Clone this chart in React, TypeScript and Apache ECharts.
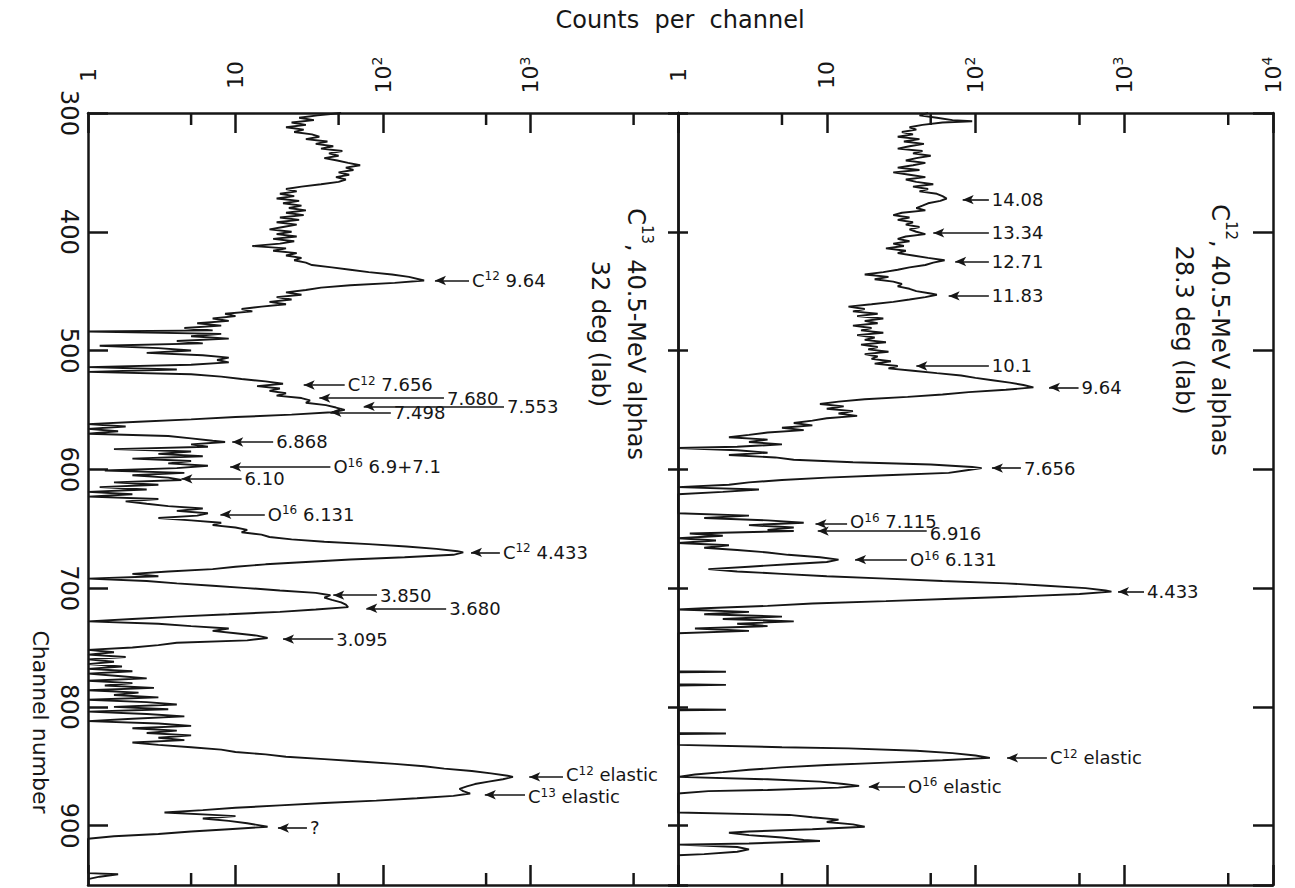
import React, { useEffect, useRef } from "react";
import * as echarts from "echarts";

// ---- Left panel: C13 target, 40.5-MeV alphas, 32 deg (lab) ----
const c13Channels = [
  300, 302, 304, 306, 308, 310, 312, 314, 316, 318, 320, 322, 324, 326, 328, 330, 332, 334, 336, 338,
  340, 342, 344, 346, 348, 350, 352, 354, 356, 358, 360, 362, 364, 366, 368, 370, 372, 374, 376, 378,
  380, 382, 384, 386, 388, 390, 392, 394, 396, 398, 400, 402, 404, 406, 408, 410, 412, 414, 416, 418,
  420, 422, 424, 426, 428, 430, 432, 434, 436, 438, 441, 443, 445, 447, 449, 451, 453, 455, 457, 459,
  461, 463, 465, 467, 469, 471, 473, 475, 477, 479, 481, 483, 484, 486, 488, 490, 492, 494, 496, 498,
  500, 502, 504, 506, 508, 510, 512, 514, 516, 518, 520, 522, 524, 526, 528, 530, 532, 534, 536, 538,
  540, 542, 544, 546, 548, 550, 552, 554, 556, 558, 560, 562, 564, 566, 568, 570, 572, 574, 576, 577,
  579, 581, 583, 585, 587, 589, 591, 593, 595, 597, 599, 601, 603, 605, 607, 609, 611, 613, 615, 617,
  619, 621, 623, 625, 627, 629, 631, 633, 635, 637, 639, 641, 643, 645, 647, 649, 651, 653, 655, 657,
  659, 661, 663, 665, 667, 669, 670, 672, 674, 676, 678, 680, 682, 684, 686, 688, 690, 692, 694, 696,
  698, 700, 702, 704, 706, 708, 710, 712, 714, 716, 718, 720, 722, 724, 726, 728, 730, 732, 734, 736,
  738, 740, 742, 744, 746, 748, 750, 752, 754, 756, 758, 760, 762, 764, 766, 768, 770, 772, 774, 776,
  778, 780, 782, 784, 786, 788, 790, 792, 794, 796, 798, 800, 802, 804, 806, 808, 810, 812, 814, 816,
  818, 820, 822, 824, 826, 828, 830, 832, 834, 836, 838, 840, 842, 844, 846, 848, 850, 852, 854, 856,
  858, 859, 861, 863, 865, 867, 869, 871, 873, 875, 877, 879, 881, 883, 885, 887, 889, 891, 892, 894,
  896, 898, 900, 901, 903, 905, 907, 909, 911, 940, 941, 943, 945,
];
const c13Counts = [
  52, 36, 27, 34, 24, 30, 22, 29, 25, 33, 37, 30, 42, 35, 46, 38, 53, 43, 50, 40,
  49, 58, 70, 56, 63, 50, 59, 48, 56, 50, 38, 28, 22, 26, 20, 25, 19, 27, 21, 28,
  23, 30, 22, 29, 20, 27, 19, 26, 21, 17, 24, 19, 26, 18, 25, 20, 13, 22, 18, 26,
  22, 28, 25, 30, 33, 45, 60, 80, 115, 150, 190, 120, 60, 38, 30, 22, 28, 19, 24, 17,
  22, 15, 11, 13, 8.5, 10, 7, 9, 5.5, 8, 4.5, 7, 1, 8, 5, 9, 4, 6, 1.2, 3,
  5, 2.5, 6, 9, 7.5, 9, 5, 1, 4, 1, 5, 8, 11, 16, 21, 14, 20, 17, 22, 19,
  28, 32, 30, 41, 48, 55, 45, 24, 10, 5, 2.2, 1, 1.8, 1, 1.6, 1, 3.5, 5, 7, 8.5,
  5, 6.5, 1.5, 5, 3, 6, 2, 5, 3.5, 6.5, 4, 1.3, 4.5, 2, 3.5, 4.3, 1.5, 3, 1.2, 2.5,
  1, 2, 1, 3, 1.8, 2.5, 3.5, 6, 4, 6.5, 5.5, 3, 5, 8, 7, 10, 12, 11, 15, 17,
  24, 40, 80, 144, 230, 320, 350, 300, 140, 60, 30, 16, 10, 7, 3.5, 2, 3, 1, 2.5, 4,
  7, 12, 20, 35, 44, 40, 45, 52, 56, 58, 35, 20, 9, 4, 2, 1, 3, 5, 9, 7,
  10, 14, 16.5, 12, 4, 3, 2, 1, 1.5, 1, 1.8, 1, 1.5, 1, 1.7, 1, 2, 1, 1.6, 2.5,
  1, 2, 1.3, 2.8, 1, 2.2, 1.5, 3, 1, 2.5, 4, 1.5, 3.5, 1, 2.5, 4.5, 2, 1, 3, 5,
  2, 4, 2.5, 5, 3, 4.5, 2, 3, 5, 8, 10, 16, 22, 40, 70, 120, 190, 260, 400, 540,
  700, 760, 650, 520, 420, 370, 330, 350, 390, 300, 170, 90, 40, 20, 10, 6, 3.3, 7, 10, 6,
  9, 12, 15, 16.5, 9, 5, 3, 1.5, 1, 1, 1.6, 1.2, 1,
];

// ---- Right panel: C12 target, 40.5-MeV alphas, 28.3 deg (lab) ----
const c12Channels = [
  300, 302, 304, 306, 307, 308, 310, 312, 314, 316, 318, 320, 322, 324, 326, 328, 330, 332, 334, 336,
  338, 340, 342, 344, 346, 348, 350, 352, 354, 356, 358, 360, 362, 364, 366, 368, 370, 372, 374, 376,
  378, 380, 382, 384, 386, 388, 390, 392, 394, 396, 398, 400, 402, 404, 406, 408, 410, 412, 414, 416,
  418, 420, 422, 424, 426, 428, 430, 432, 434, 436, 438, 440, 442, 444, 446, 448, 450, 452, 453, 455,
  457, 459, 461, 463, 465, 467, 469, 471, 473, 475, 477, 479, 481, 483, 485, 487, 489, 491, 493, 495,
  497, 499, 501, 503, 505, 507, 509, 511, 513, 515, 517, 519, 521, 523, 525, 527, 529, 531, 533, 535,
  537, 539, 541, 543, 545, 547, 549, 551, 553, 555, 557, 559, 561, 563, 565, 567, 569, 571, 573, 575,
  577, 579, 581, 582, 584, 586, 588, 590, 592, 594, 596, 598, 599, 601, 603, 605, 607, 609, 611, 613,
  615, 617, 619, 621, 637, 639, 641, 643, 645, 647, 649, 651, 652, 654, 656, 658, 660, 662, 664, 666,
  668, 670, 672, 674, 676, 678, 680, 682, 684, 686, 688, 690, 692, 694, 696, 698, 700, 702, 703, 705,
  707, 709, 711, 713, 715, 717, 718, 720, 722, 724, 726, 728, 730, 732, 734, 736, 738, 770, 770.5, 771,
  781, 781.5, 782, 802, 802.5, 803, 822, 822.5, 823, 832, 834, 835, 837, 839, 841, 843, 845, 847, 849, 851,
  853, 855, 857, 859, 861, 863, 865, 866.5, 868, 870, 871, 873, 889, 891, 893, 895, 897, 899, 901, 903,
  905, 906, 908, 910, 912, 913, 915, 916, 918, 920, 922, 924, 925,
];
const c12Counts = [
  48, 42, 55, 70, 95, 60, 44, 36, 40, 32, 38, 30, 42, 33, 45, 36, 30, 44, 38, 50,
  40, 34, 46, 38, 30, 42, 28, 36, 46, 34, 40, 52, 38, 48, 42, 55, 60, 64, 58, 48,
  44, 40, 46, 32, 28, 36, 30, 38, 34, 42, 36, 40, 46, 34, 30, 36, 28, 33, 25, 34,
  30, 38, 48, 62, 52, 46, 36, 30, 24, 18, 26, 21, 28, 32, 30, 36, 40, 50, 55, 46,
  36, 28, 20, 14, 18, 15, 22, 16, 24, 18, 22, 15, 20, 17, 24, 16, 21, 18, 25, 17,
  22, 19, 26, 18, 22, 20, 27, 21, 30, 26, 38, 55, 80, 100, 130, 170, 210, 245, 160, 90,
  60, 35, 18, 12, 9, 13, 10, 15, 12, 16, 10, 8, 6, 8, 5, 7, 4, 3, 2.2, 4,
  3, 5, 2.5, 1, 2.5, 4, 2.2, 4.5, 6, 15, 50, 95, 110, 85, 66, 25, 10, 5, 3, 2.2,
  1, 3.5, 2, 1, 1, 3, 1.5, 4, 7, 3, 6, 4, 6, 1.2, 2, 1, 1.8, 1, 2.2, 1.5,
  2.5, 4, 5.5, 9, 12, 10, 5.5, 3, 1.6, 2.5, 5, 10, 25, 60, 160, 300, 550, 750, 820, 500,
  200, 70, 25, 8, 4, 1.5, 1, 3, 1.5, 5, 2, 6, 2.5, 4, 1.3, 3, 1, 1, 2.1, 1,
  1, 2.1, 1, 1, 2.1, 1, 1, 2.1, 1, 1, 5, 14, 40, 70, 100, 125, 60, 25, 10, 5,
  3, 2, 1.3, 1, 4, 9, 13, 16.5, 12, 4, 1.6, 1, 1, 5.6, 8, 12, 10, 15, 18, 8,
  3, 2.2, 3, 5, 7, 9, 3, 1, 2.5, 3, 2.5, 1.5, 1,
];

// ---- Axes ----
const countMin = 1;
const countMax = 10000;
const countMinorTicks = [5, 50, 500, 5000];
const channelMin = 300;
const channelMax = 950;
const channelInterval = 100;

// ---- Annotations (arrow tip / tail in counts, at a channel) ----
const c13Notes = [
  { el: "C", iso: "12", val: "9.64", ch: 441, tip: 225, tail: 383 },
  { el: "C", iso: "12", val: "7.656", ch: 529, tip: 29, tail: 55 },
  { el: "", iso: "", val: "7.680", ch: 540, tip: 37, tail: 259 },
  { el: "", iso: "", val: "7.553", ch: 547, tip: 74, tail: 661 },
  { el: "", iso: "", val: "7.498", ch: 552, tip: 44, tail: 113 },
  { el: "", iso: "", val: "6.868", ch: 577, tip: 9.5, tail: 18 },
  { el: "O", iso: "16", val: "6.9+7.1", ch: 598, tip: 9.2, tail: 44 },
  { el: "", iso: "", val: "6.10", ch: 608, tip: 4.3, tail: 11 },
  { el: "O", iso: "16", val: "6.131", ch: 638, tip: 7.9, tail: 15.8 },
  { el: "C", iso: "12", val: "4.433", ch: 670, tip: 395, tail: 620 },
  { el: "", iso: "", val: "3.850", ch: 706, tip: 46, tail: 91 },
  { el: "", iso: "", val: "3.680", ch: 717, tip: 77, tail: 268 },
  { el: "", iso: "", val: "3.095", ch: 743, tip: 21, tail: 46 },
  { el: "C", iso: "12", val: "elastic", ch: 859, tip: 980, tail: 1660, dy: -2 },
  { el: "C", iso: "13", val: "elastic", ch: 874, tip: 490, tail: 918, dy: 2 },
  { el: "", iso: "", val: "?", ch: 902, tip: 19.4, tail: 30.5 },
];
const c12Notes = [
  { el: "", iso: "", val: "14.08", ch: 373, tip: 82, tail: 123 },
  { el: "", iso: "", val: "13.34", ch: 401, tip: 52, tail: 123 },
  { el: "", iso: "", val: "12.71", ch: 425, tip: 73, tail: 123 },
  { el: "", iso: "", val: "11.83", ch: 454, tip: 66, tail: 123 },
  { el: "", iso: "", val: "10.1", ch: 513, tip: 40, tail: 123 },
  { el: "", iso: "", val: "9.64", ch: 531, tip: 312, tail: 493 },
  { el: "", iso: "", val: "7.656", ch: 599, tip: 129, tail: 202 },
  { el: "O", iso: "16", val: "7.115", ch: 646, tip: 8.4, tail: 13.7, dy: -2 },
  { el: "", iso: "", val: "6.916", ch: 652, tip: 8.7, tail: 47, dy: 2 },
  { el: "O", iso: "16", val: "6.131", ch: 676, tip: 15.5, tail: 34.6 },
  { el: "", iso: "", val: "4.433", ch: 703, tip: 908, tail: 1358 },
  { el: "C", iso: "12", val: "elastic", ch: 843, tip: 163, tail: 302 },
  { el: "O", iso: "16", val: "elastic", ch: 867, tip: 19.2, tail: 33.6 },
];

const INK = "#161616";
const FONT = "DejaVu Sans";
const MINOR_TICK_PX = 12;

const noteRich = {
  n: { fontSize: 18, fontFamily: FONT, color: INK, lineHeight: 20 },
  s: { fontSize: 12, fontFamily: FONT, color: INK, verticalAlign: "top", lineHeight: 11 },
};

const noteText = (n: any) =>
  n.el ? `{n|${n.el}}{s|${n.iso}}{n| ${n.val}}` : `{n|${n.val}}`;

const tickLabel = (v: number, hideTop: boolean) => {
  const e = Math.round(Math.log10(v));
  if (e === 0) return "{b|1}";
  if (e === 1) return "{b|10}";
  if (e === 4 && hideTop) return "";
  return `{b|10}{s|${e}}`;
};

function countAxes(gridIndex: number, hideTop: boolean) {
  const line = { show: true, lineStyle: { color: INK, width: 2.5 } };
  const tickStyle = { color: INK, width: 2.5 };
  return [
    {
      type: "log", logBase: 10, gridIndex, min: countMin, max: countMax, position: "top",
      axisLine: line,
      axisTick: { show: true, inside: true, length: 20, lineStyle: tickStyle },
      splitLine: { show: false },
      axisLabel: {
        show: true, rotate: -90, margin: 38, align: "center", verticalAlign: "middle",
        formatter: (v: number) => tickLabel(v, hideTop),
        rich: {
          b: { fontSize: 22, fontFamily: FONT, color: INK, lineHeight: 26 },
          s: { fontSize: 14, fontFamily: FONT, color: INK, verticalAlign: "top", lineHeight: 14 },
        },
      },
    },
    {
      type: "log", logBase: 10, gridIndex, min: countMin, max: countMax, position: "bottom",
      axisLine: line,
      axisTick: { show: true, inside: true, length: 20, lineStyle: tickStyle },
      axisLabel: { show: false }, splitLine: { show: false },
    },
  ];
}

function channelAxis(gridIndex: number, position: string, len: number, labels: boolean) {
  return {
    type: "value", gridIndex, position, inverse: true,
    min: channelMin, max: channelMax, interval: channelInterval,
    axisLine: { show: true, onZero: false, lineStyle: { color: INK, width: 2.5 } },
    axisTick: { show: true, inside: true, length: len, lineStyle: { color: INK, width: 2.5 } },
    splitLine: { show: false },
    axisLabel: labels
      ? {
          show: true, rotate: -90, margin: 19, align: "center", verticalAlign: "middle",
          showMaxLabel: false, color: INK, fontSize: 24, fontFamily: FONT,
        }
      : { show: false },
  };
}

function spectrumSeries(channels: number[], counts: number[], notes: any[], xAxisIndex: number, yAxisIndex: number) {
  return {
    type: "line", xAxisIndex, yAxisIndex, symbol: "none", silent: true,
    data: channels.map((ch, i) => [counts[i], ch]),
    lineStyle: { color: INK, width: 1.9 },
    markLine: {
      silent: true, animation: false,
      symbol: ["arrow", "none"], symbolSize: [7, 11],
      lineStyle: { color: INK, width: 1.6, type: "solid" },
      label: { show: true, position: "end", distance: 3, color: INK, rich: noteRich },
      emphasis: { disabled: true },
      data: notes.map((n: any) => [
        { coord: [n.tip, n.ch], label: { formatter: noteText(n), offset: [0, n.dy || 0] } },
        { coord: [n.tail, n.ch] },
      ]),
    },
  };
}

const titleRich = {
  n: { fontSize: 24, fontFamily: FONT, fill: INK, color: INK, lineHeight: 36 },
  s: { fontSize: 15, fontFamily: FONT, fill: INK, color: INK, verticalAlign: "top", lineHeight: 22 },
};

function rotatedTitle(x: number, y: number, text: string) {
  return {
    type: "text", x, y, rotation: -Math.PI / 2,
    style: {
      text, rich: titleRich, fill: INK, font: `24px ${FONT}`,
      align: "center", verticalAlign: "middle", textAlign: "center", textVerticalAlign: "middle",
    },
  };
}

const staticTexts = [
  {
    type: "text", x: 680, y: 20,
    style: {
      text: "Counts  per  channel", fill: INK, font: `24px ${FONT}`,
      align: "center", verticalAlign: "middle", textAlign: "center", textVerticalAlign: "middle",
    },
  },
  {
    type: "text", x: 40, y: 722, rotation: -Math.PI / 2,
    style: {
      text: "Channel number", fill: INK, font: `22px ${FONT}`,
      align: "center", verticalAlign: "middle", textAlign: "center", textVerticalAlign: "middle",
    },
  },
  rotatedTitle(618, 334, "{n|C}{s|13}{n|, 40.5-MeV alphas}\n{n|32 deg (lab)}"),
  rotatedTitle(1202, 330, "{n|C}{s|12}{n|, 40.5-MeV alphas}\n{n|28.3 deg (lab)}"),
];

export default function App() {
  const ref = useRef<HTMLDivElement>(null);
  useEffect(() => {
    if (!ref.current) return;
    const chart = echarts.init(ref.current, null, { renderer: "svg" });
    const option: any = {
      animation: false,
      backgroundColor: "#ffffff",
      grid: [
        { left: 88, top: 113, width: 590, height: 772 },
        { left: 678, top: 113, width: 595, height: 772 },
      ],
      xAxis: [...countAxes(0, true), ...countAxes(1, false)],
      yAxis: [
        channelAxis(0, "left", 20, true),
        channelAxis(0, "right", 10, false),
        channelAxis(1, "left", 10, false),
        channelAxis(1, "right", 20, false),
      ],
      series: [
        spectrumSeries(c13Channels, c13Counts, c13Notes, 0, 0),
        spectrumSeries(c12Channels, c12Counts, c12Notes, 2, 2),
      ],
      graphic: staticTexts,
    };
    chart.setOption(option);

    // minor ticks at 5, 50, 500, 5000: positions come from the chart's own log axes
    const tickEls: any[] = [];
    const panels = [
      { xAxisIndex: 0, yAxisIndex: 0 },
      { xAxisIndex: 2, yAxisIndex: 2 },
    ];
    panels.forEach((finder) => {
      countMinorTicks.forEach((v) => {
        const top = chart.convertToPixel(finder as any, [v, channelMin]) as number[];
        const bot = chart.convertToPixel(finder as any, [v, channelMax]) as number[];
        if (!top || !bot) return;
        const st = { stroke: INK, lineWidth: 2.5 };
        tickEls.push({ type: "line", z: 50, shape: { x1: top[0], y1: top[1], x2: top[0], y2: top[1] + MINOR_TICK_PX }, style: st });
        tickEls.push({ type: "line", z: 50, shape: { x1: bot[0], y1: bot[1], x2: bot[0], y2: bot[1] - MINOR_TICK_PX }, style: st });
      });
    });
    chart.setOption({ graphic: [...staticTexts, ...tickEls] });
    return () => chart.dispose();
  }, []);
  return (
    <div
      ref={ref}
      style={{ position: "fixed", left: 0, top: 0, width: 1295, height: 888, background: "#fff" }}
    />
  );
}
